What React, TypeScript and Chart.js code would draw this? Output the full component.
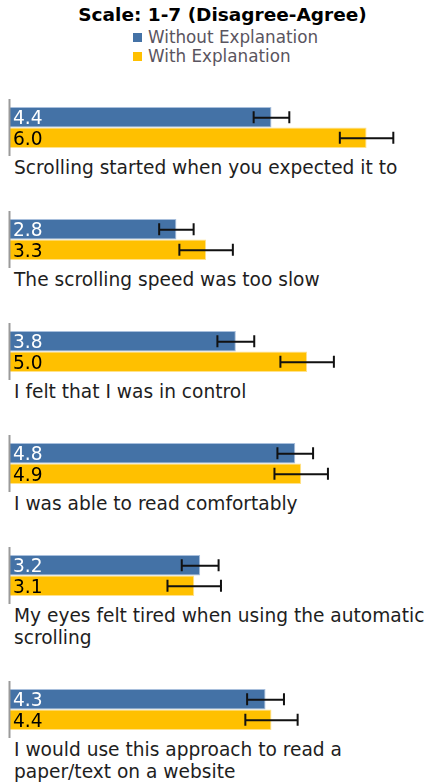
import React, { useEffect, useRef } from 'react';
import { Chart, registerables } from 'chart.js';

Chart.register(...registerables);

const titleText = 'Scale: 1-7 (Disagree-Agree)';
const seriesNames = ['Without Explanation', 'With Explanation'];
const questions = [
  'Scrolling started when you expected it to',
  'The scrolling speed was too slow',
  'I felt that I was in control',
  'I was able to read comfortably',
  'My eyes felt tired when using the automatic scrolling',
  'I would use this approach to read a paper/text on a website',
];
const withoutValues = [4.4, 2.8, 3.8, 4.8, 3.2, 4.3];
const withValues = [6.0, 3.3, 5.0, 4.9, 3.1, 4.4];
const withoutErrors = [0.3, 0.29, 0.31, 0.3, 0.31, 0.31];
const withErrors = [0.45, 0.45, 0.45, 0.45, 0.45, 0.44];
const scaleMin = 0;
const scaleMax = 7;

const FONT = '"DejaVu Sans", Verdana, sans-serif';
const BLUE = '#4472a6';
const YELLOW = '#ffc000';

const overlayPlugin = {
  id: 'overlay',
  afterDatasetsDraw(chart: any) {
    const { ctx, chartArea, scales } = chart;
    const xs = scales.x;
    ctx.save();
    const x0 = xs.getPixelForValue(scaleMin);
    ctx.strokeStyle = '#9a9a9a';
    ctx.lineWidth = 2;
    ctx.beginPath();
    ctx.moveTo(x0 - 0.5, chartArea.top);
    ctx.lineTo(x0 - 0.5, chartArea.bottom);
    ctx.stroke();
    chart.data.datasets.forEach((ds: any, i: number) => {
      const meta = chart.getDatasetMeta(i);
      meta.data.forEach((bar: any, j: number) => {
        const v = ds.data[j];
        const e = ds.errors[j];
        const y = bar.y;
        ctx.font = `18.6px ${FONT}`;
        ctx.fillStyle = ds.labelColor;
        ctx.textAlign = 'left';
        ctx.textBaseline = 'alphabetic';
        ctx.fillText(v.toFixed(1), bar.base + 3, y + 7);
        const l = xs.getPixelForValue(v - e);
        const r = xs.getPixelForValue(v + e);
        ctx.strokeStyle = '#111';
        ctx.lineWidth = 2;
        ctx.beginPath();
        ctx.moveTo(l, y + 0.5);
        ctx.lineTo(r, y + 0.5);
        ctx.moveTo(l, y - 6);
        ctx.lineTo(l, y + 6);
        ctx.moveTo(r, y - 6);
        ctx.lineTo(r, y + 6);
        ctx.stroke();
      });
    });
    ctx.restore();
  },
};

function QuestionChart({ index }: { index: number }) {
  const ref = useRef<HTMLCanvasElement | null>(null);
  useEffect(() => {
    if (!ref.current) return;
    const chart = new Chart(ref.current, {
      type: 'bar',
      data: {
        labels: [questions[index]],
        datasets: [
          {
            label: seriesNames[0],
            data: [withoutValues[index]],
            errors: [withoutErrors[index]],
            labelColor: '#ffffff',
            backgroundColor: BLUE,
            borderColor: '#a8bfdc',
            borderWidth: 1,
          } as any,
          {
            label: seriesNames[1],
            data: [withValues[index]],
            errors: [withErrors[index]],
            labelColor: '#000000',
            backgroundColor: YELLOW,
            borderColor: '#ffe28c',
            borderWidth: 1,
          } as any,
        ],
      },
      options: {
        indexAxis: 'y',
        animation: false,
        responsive: true,
        maintainAspectRatio: false,
        layout: { padding: { left: 10, right: 3, top: 0, bottom: 0 } },
        datasets: { bar: { categoryPercentage: 0.72, barPercentage: 1.0 } },
        scales: {
          x: { display: false, min: scaleMin, max: scaleMax },
          y: { display: false },
        },
        plugins: {
          legend: { display: false },
          tooltip: { enabled: false },
          title: { display: false },
        },
      },
      plugins: [overlayPlugin],
    });
    return () => chart.destroy();
  }, [index]);

  return (
    <div style={{ marginBottom: 32 }}>
      <div style={{ position: 'relative', width: 429, height: 57 }}>
        <canvas ref={ref} />
      </div>
      <div
        style={{
          marginTop: 1,
          paddingLeft: 14,
          width: 429,
          boxSizing: 'border-box',
          fontFamily: FONT,
          fontSize: '18.6px',
          lineHeight: '22px',
          color: '#1e1e1e',
        }}
      >
        {questions[index]}
      </div>
    </div>
  );
}

export default function App() {
  const legendColors = [BLUE, YELLOW];
  return (
    <div style={{ position: 'relative', width: 429, height: 782, overflow: 'hidden', background: '#fff' }}>
      <style>{'body{margin:0;overflow:hidden;background:#fff}'}</style>
      <div
        style={{
          position: 'absolute',
          left: 16,
          width: 413,
          top: 4,
          textAlign: 'center',
          fontFamily: FONT,
          fontWeight: 'bold',
          fontSize: '18.5px',
          lineHeight: '22px',
          color: '#000',
        }}
      >
        {titleText}
      </div>
      <div style={{ position: 'absolute', left: 133, top: 28 }}>
        {seriesNames.map((name, i) => (
          <div key={name} style={{ display: 'flex', alignItems: 'center', height: 19 }}>
            <span style={{ display: 'inline-block', width: 9, height: 9, background: legendColors[i], marginRight: 6 }} />
            <span style={{ fontFamily: FONT, fontSize: '16.8px', lineHeight: '19px', color: '#5a5560' }}>{name}</span>
          </div>
        ))}
      </div>
      <div style={{ position: 'absolute', left: 0, top: 99, width: 429 }}>
        {questions.map((_, i) => (
          <QuestionChart key={i} index={i} />
        ))}
      </div>
    </div>
  );
}
